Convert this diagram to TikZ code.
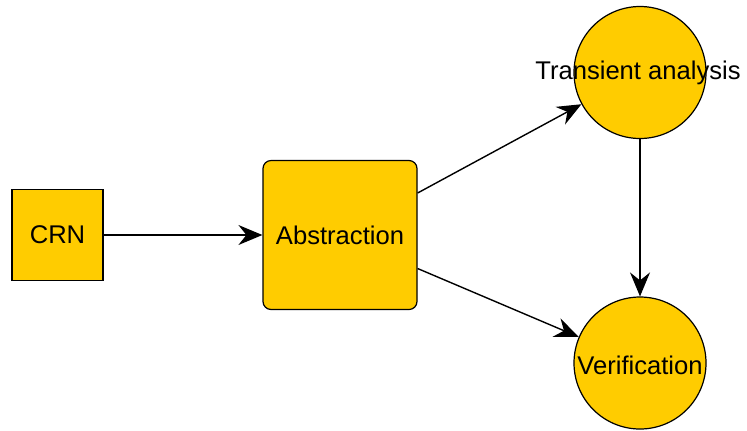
\documentclass[tikz,border=0pt]{standalone}
\usepackage{fontspec}
\setmainfont{Liberation Sans}
\usepackage{xcolor}
\usetikzlibrary{arrows.meta,calc,positioning,shapes.geometric}
\definecolor{gold}{HTML}{FFCC00}

\begin{document}
\begin{tikzpicture}[x=0.5pt,y=-0.5pt,
    block/.style={draw, line width=0.6pt, fill=gold, font=\fontsize{12.8pt}{15pt}\selectfont},
    stage/.style={block, circle, minimum size=66pt, inner sep=0pt},
    flow/.style={-{Stealth[length=12pt,width=10pt,inset=4pt]}, line width=0.7pt}]
  \useasboundingbox (0,0) rectangle (747,430);
  % input, abstraction step and the two analyses
  \node[block, minimum width=45.5pt, minimum height=45.5pt] (crn) at (57.5,235) {CRN};
  \node[block, rounded corners=4pt, minimum width=77pt, minimum height=74.5pt] (abs) at (340,235) {Abstraction};
  \node[stage, label={[font=\fontsize{12.8pt}{15pt}\selectfont, xshift=-1pt]center:Transient analysis}] (trans) at (640,72.5) {};
  \node[stage, label={[font=\fontsize{12.8pt}{15pt}\selectfont, yshift=-1pt]center:Verification}] (ver) at (640,363) {};
  % connectors
  \draw[flow] (crn.east) -- (abs.west);
  \draw[flow] ([yshift=21pt]abs.east) -- (trans);
  \draw[flow] ([yshift=-16.75pt]abs.east) -- (ver);
  \draw[flow] (trans.south) -- (ver.north);
\end{tikzpicture}
\end{document}
